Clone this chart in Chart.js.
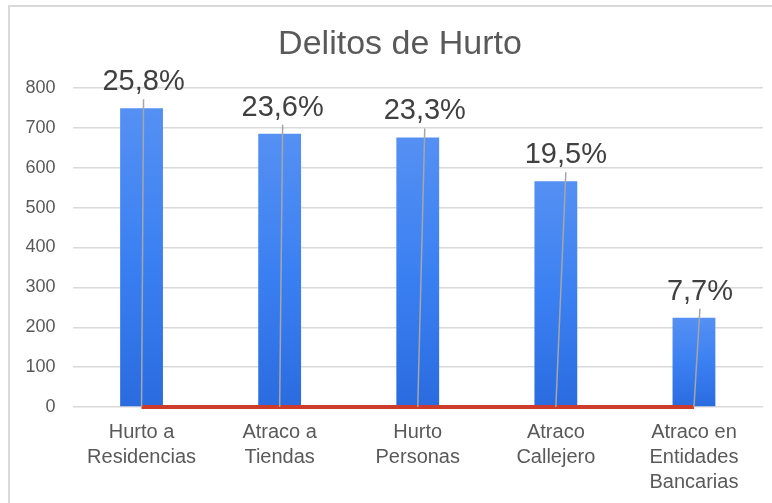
<!DOCTYPE html>
<html>
<head>
<meta charset="utf-8">
<script src="https://cdn.jsdelivr.net/npm/chart.js@4/dist/chart.umd.min.js"></script>
<style>
  html, body { margin: 0; padding: 0; background: #ffffff; }
  #wrap { width: 772px; height: 503px; position: relative; }
</style>
</head>
<body>
<div id="wrap"><canvas id="c" width="772" height="503"></canvas></div>
<script>
const titleText = "Delitos de Hurto";
const categories = [
  ["Hurto a", "Residencias"],
  ["Atraco a", "Tiendas"],
  ["Hurto", "Personas"],
  ["Atraco", "Callejero"],
  ["Atraco en", "Entidades", "Bancarias"]
];
const counts = [749, 685, 676, 566, 224];
const percents = [25.8, 23.6, 23.3, 19.5, 7.7];
const yTicks = [0, 100, 200, 300, 400, 500, 600, 700, 800];

const textColor = "#595959";
const fontFamily = "'Liberation Sans', Arial, sans-serif";

const framePlugin = {
  id: "frame",
  beforeDraw(chart) {
    const c = chart.ctx;
    c.save();
    c.fillStyle = "#ffffff";
    c.fillRect(0, 0, chart.width, chart.height);
    c.strokeStyle = "#d9d9d9";
    c.lineWidth = 2;
    c.strokeRect(9, 6, chart.width + 20, chart.height + 20);
    c.restore();
  },
  afterDraw(chart, args, opts) {
    const c = chart.ctx;
    c.save();
    c.fillStyle = textColor;
    c.font = "34px " + fontFamily;
    c.textAlign = "center";
    c.textBaseline = "middle";
    c.fillText(opts.text, opts.x, opts.y);
    c.restore();
  }
};

const pctLabelPlugin = {
  id: "pctLabels",
  afterDatasetsDraw(chart, args, opts) {
    const c = chart.ctx;
    const bars = chart.getDatasetMeta(0).data;
    const line = chart.getDatasetMeta(1).data;
    const y = chart.scales.y;
    c.save();
    bars.forEach((bar, i) => {
      const nudge = (opts.nudge && opts.nudge[i]) || 0;
      const top = y.getPixelForValue(counts[i]);
      const lx = bar.x + nudge;
      c.strokeStyle = "#a6a6a6";
      c.lineWidth = 1.5;
      c.beginPath();
      c.moveTo(line[i].x, line[i].y);
      c.lineTo(lx, top - 9);
      c.stroke();
      c.fillStyle = "#404040";
      c.font = "29px " + fontFamily;
      c.textAlign = "center";
      c.textBaseline = "middle";
      c.fillText(percents[i].toFixed(1).replace(".", ",") + "%", lx, top - 26);
    });
    c.restore();
  }
};

new Chart(document.getElementById("c"), {
  type: "bar",
  data: {
    labels: categories,
    datasets: [
      {
        type: "bar",
        data: counts,
        order: 2,
        barPercentage: 0.31,
        categoryPercentage: 1.0,
        borderWidth: 0,
        backgroundColor: (ctx) => {
          const chart = ctx.chart;
          if (!chart.chartArea || !chart.scales.y) return "#3a7ff0";
          const ys = chart.scales.y;
          const t = ys.getPixelForValue(ctx.raw);
          const b = ys.getPixelForValue(0);
          if (!isFinite(t) || !isFinite(b) || t === b) return "#3a7ff0";
          const g = chart.ctx.createLinearGradient(0, t, 0, b);
          g.addColorStop(0, "#5590f3");
          g.addColorStop(0.5, "#3b80f2");
          g.addColorStop(1, "#2a6ce0");
          return g;
        }
      },
      {
        type: "line",
        data: percents.map(p => p / 100),
        order: 1,
        clip: 10,
        borderColor: "#cc3b2c",
        borderWidth: 4,
        pointRadius: 0,
        pointHoverRadius: 0,
        fill: false,
        tension: 0
      }
    ]
  },
  plugins: [framePlugin, pctLabelPlugin],
  options: {
    responsive: false,
    animation: false,
    events: [],
    layout: { padding: { left: 10, right: 9, top: 88, bottom: 0 } },
    plugins: {
      legend: { display: false },
      tooltip: { enabled: false },
      title: { display: false },
      frame: { text: titleText, x: 400, y: 45 },
      pctLabels: { nudge: [2, 3, 7, 10, 6] }
    },
    scales: {
      x: {
        grid: { display: false, drawTicks: false },
        border: { display: false },
        ticks: {
          color: textColor,
          font: { family: fontFamily, size: 20, lineHeight: 1.25 },
          padding: 13,
          maxRotation: 0,
          minRotation: 0,
          autoSkip: false
        },
        afterFit(scale) { scale.height = 96; }
      },
      y: {
        min: 0,
        max: 800,
        afterBuildTicks(scale) { scale.ticks = yTicks.map(v => ({ value: v })); },
        grid: { color: "#d9d9d9", lineWidth: 1.5, drawTicks: false },
        border: { display: false },
        ticks: {
          color: textColor,
          font: { family: fontFamily, size: 18 },
          padding: 17
        },
        afterFit(scale) { scale.width = 62.5; }
      }
    }
  }
});
</script>
</body>
</html>
